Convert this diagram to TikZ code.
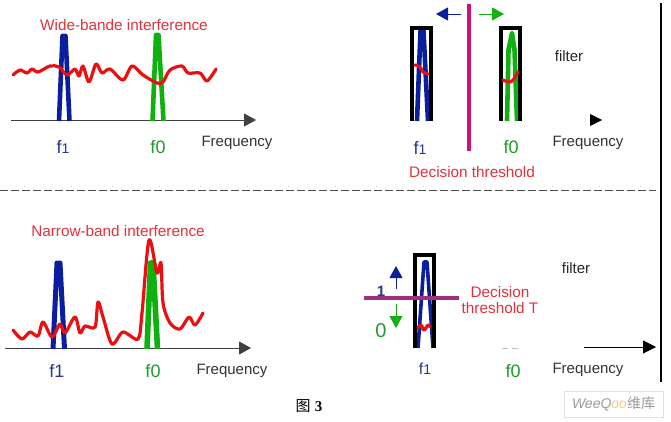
\documentclass[tikz,border=0pt]{standalone}
\usepackage{fontspec}
\setmainfont{Liberation Sans}
\newfontfamily\cjkfont{Noto Sans CJK SC}
\newfontfamily\timesfont{Liberation Serif}
\usetikzlibrary{arrows.meta}
\definecolor{sigblue}{HTML}{0A1E9E}
\definecolor{siggreen}{HTML}{10B010}
\definecolor{sigred}{HTML}{E81010}
\definecolor{labelred}{HTML}{E0323C}
\definecolor{labelblue}{HTML}{28388C}
\definecolor{labelgreen}{HTML}{209A28}
\newcommand{\lowone}{{\fontsize{14}{14}\selectfont 1}}
\begin{document}
\begin{tikzpicture}[
    x=1pt, y=-1pt,
    axis/.style={draw=black!75, line width=0.9pt, -{Triangle[length=12pt,width=13pt]}},
    peak/.style={line width=4.6pt, line join=round},
    noise/.style={draw=sigred, line width=3.2pt, line join=round, line cap=round},
    filterbox/.style={draw=black, line width=4pt, line join=miter},
    freq/.style={font=\fontsize{15}{15}\selectfont, text=black!80},
    redlabel/.style={font=\fontsize{15.3}{15.3}\selectfont, text=labelred},
    fone/.style={font=\fontsize{18}{18}\selectfont, text=labelblue},
    fzero/.style={font=\fontsize{18}{18}\selectfont, text=labelgreen},
    thinarrow/.style={line width=0.9pt, -{Triangle[length=12pt,width=13pt]}}
]
\useasboundingbox (0,0) rectangle (671,422);

% Top left spectrum
\coordinate (axisAstart) at (11,120);
\coordinate (axisAend) at (256,120);
\draw[axis] (axisAstart) -- (axisAend);
\draw[peak, sigblue] (59,121) -- (62.5,36) -- (65.5,36) -- (69.5,121);
\draw[peak, siggreen] (152.5,121) -- (156,35) -- (158.5,35) -- (163.5,121);
\draw[noise] plot[smooth, tension=0.5] coordinates {(13,75) (20,70) (27,73) (32,69) (38,72) (50,66) (59,67) (67,75) (75,69) (79,76) (83,66) (89,82) (96,64) (102,73) (110,69) (123,80) (132,66) (143,75) (157,83) (163,82) (170,70) (182,66) (188,73) (200,73) (207,81) (216,69)};
\node[redlabel] (wideband) at (124,25) {Wide-bande interference};
\node[fone] (fonea) at (63,147) {f\lowone};
\node[fzero] (fzeroa) at (158,147) {f0};
\node[freq] (freqa) at (237,143) {Frequency};

% Top right filters
\draw[peak, sigblue] (417,121) -- (420.5,31) -- (423.5,31) -- (428,121);
\draw[filterbox] (412,121) -- (412,28.5) -- (431,28.5) -- (431,121);
\draw[noise] plot[smooth, tension=0.6] coordinates {(415,65) (420,67) (423,72) (428,74)};
\draw[peak, siggreen] (507,121) -- (508.5,50) -- (512,33) -- (514.5,50) -- (517,121);
\draw[filterbox] (501,121) -- (501,28.5) -- (520,28.5) -- (520,121);
\draw[noise] plot[smooth, tension=0.6] coordinates {(503,80) (509,82) (513,80) (518,72)};
\coordinate (gateAtop) at (469,4);
\coordinate (gateAbot) at (469,151);
\draw[draw={rgb,255:red,208;green,16;blue,127}, line width=4.5pt] (gateAtop) -- (gateAbot);
\coordinate (leftAtail) at (461,14);
\coordinate (leftAtip) at (436,14);
\coordinate (rightAtail) at (479,14);
\coordinate (rightAtip) at (504,14);
\draw[thinarrow, sigblue] (leftAtail) -- (leftAtip);
\draw[thinarrow, siggreen] (rightAtail) -- (rightAtip);
\node[freq, text=black!85] (filtera) at (569,56) {filter};
\fill[black] (590,114) -- (602,120) -- (590,126) -- cycle;
\node[fone] (foneb) at (420,148) {f\lowone};
\node[fzero] (fzerob) at (511,147) {f0};
\node[freq] (freqb) at (588,143) {Frequency};
\node[redlabel] (threshold) at (472,172) {Decision threshold};

% Separators
\coordinate (sepstart) at (0,190);
\coordinate (sepend) at (656,190);
\draw[black!70, line width=1pt, dash pattern=on 8pt off 3pt] (sepstart) -- (sepend);
\coordinate (railtop) at (661,3);
\coordinate (railbot) at (661,382);
\draw[black, line width=2pt] (railtop) -- (railbot);

% Bottom left spectrum
\coordinate (axisBstart) at (5,348);
\coordinate (axisBend) at (251,348);
\draw[axis] (axisBstart) -- (axisBend);
\draw[peak, sigblue, line width=5pt] (53,349) -- (57,263) -- (60,263) -- (64.5,349);
\draw[peak, siggreen, line width=5.6pt] (147,349) -- (150.5,263) -- (153,263) -- (157.5,349);
\draw[noise] plot[smooth, tension=0.5] coordinates {(13,330) (22,339) (30,332) (38,336) (43,322) (52,337) (60,324) (65,333) (75,317) (80,333) (85,326) (95,327) (98,302) (103,317) (112,344) (123,332) (138,339) (142,313) (149,240) (157,273) (161,263) (163,303) (170,323) (180,329) (189,317) (195,325) (203,313)};
\node[redlabel] (narrowband) at (118,231) {Narrow-band interference};
\node[fone] (fonec) at (57,371) {f1};
\node[fzero] (fzeroc) at (153,371) {f0};
\node[freq] (freqc) at (232,371) {Frequency};

% Bottom right filter
\draw[sigblue, line width=3.6pt, line join=round] (418,348) -- (424,262) -- (427,262) -- (433,348);
\draw[filterbox] (415,348) -- (415,255) -- (433.5,255) -- (433.5,348);
\draw[noise] plot[smooth, tension=0.7] coordinates {(418,328) (421,325) (424,330) (428,325) (430,327)};
\node[font=\bfseries\fontsize{15}{15}\selectfont, text=labelblue] (bitone) at (381,291) {1};
\node[font=\fontsize{20}{20}\selectfont, text=labelgreen] (bitzero) at (381,331) {0};
\coordinate (gateBleft) at (364,298);
\coordinate (gateBright) at (459,298);
\draw[draw={rgb,255:red,160;green,48;blue,127}, line width=3.6pt] (gateBleft) -- (gateBright);
\coordinate (upBtail) at (396,289);
\coordinate (upBtip) at (396,266);
\coordinate (downBtail) at (396,304);
\coordinate (downBtip) at (396,328);
\draw[thinarrow, sigblue] (upBtail) -- (upBtip);
\draw[thinarrow, siggreen] (downBtail) -- (downBtip);
\node[redlabel, align=center] (thresholdT) at (500,300) {Decision\\threshold T};
\node[freq, text=black!85] (filterb) at (576,268) {filter};
\coordinate (faintstart) at (502,348);
\coordinate (faintend) at (518,348);
\draw[black!25, line width=0.7pt, dash pattern=on 6pt off 4pt] (faintstart) -- (faintend);
\coordinate (axisCstart) at (584,347);
\coordinate (axisCend) at (656,347);
\draw[black, line width=0.9pt, -{Triangle[length=13pt,width=13pt]}] (axisCstart) -- (axisCend);
\node[fone, font=\fontsize{16}{16}\selectfont] (foned) at (425,369) {f\lowone};
\node[fzero] (fzerod) at (513,371) {f0};
\node[freq] (freqd) at (588,370) {Frequency};

% Caption and watermark
\node[font=\fontsize{15}{15}\selectfont, text=black] (caption) at (309,406) {{\cjkfont 图} {\timesfont\bfseries 3}};
\node[draw=black!12, line width=0.7pt, minimum width=99pt, minimum height=26pt, inner sep=0pt, font=\fontsize{14}{14}\selectfont, text=black!40] (weeqoo) at (613.5,404) {\textit{Wee}\textit{Q\textcolor{orange!45}{oo}}{\cjkfont 维库}};
\end{tikzpicture}
\end{document}
